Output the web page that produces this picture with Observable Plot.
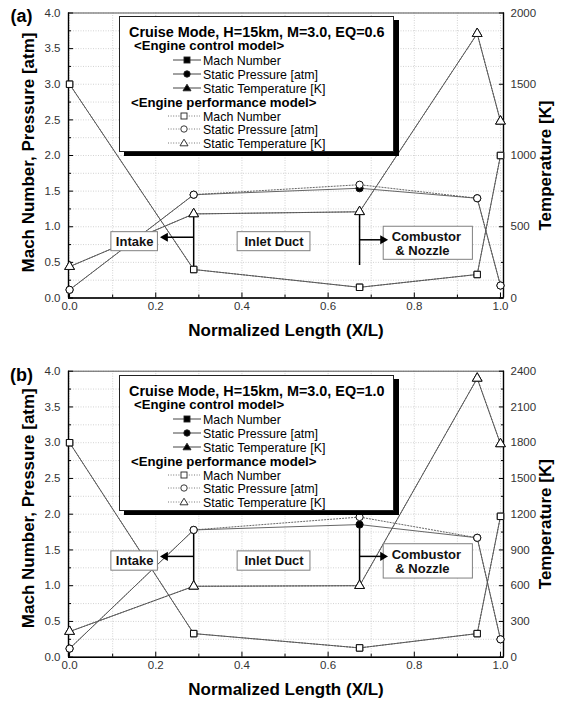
<!DOCTYPE html>
<html><head><meta charset="utf-8">
<script src="https://cdn.jsdelivr.net/npm/d3@7"></script>
<script src="https://cdn.jsdelivr.net/npm/@observablehq/plot@0.6"></script>
<style>
body{margin:0;background:#fff;}
#wrap{position:relative;width:561px;height:701px;font-family:"Liberation Sans",Arial,sans-serif;overflow:hidden;}
.panel{position:absolute;left:0;}
.legend{position:absolute;background:#fff;border:1px solid #222;box-shadow:5px 4px 0 #000;box-sizing:border-box;}
.legend .row{position:absolute;white-space:nowrap;line-height:1;transform:translateY(-50%);color:#000;}
.legend svg{position:absolute;transform:translateY(-50%);overflow:visible;}
</style></head><body><div id="wrap"></div>
<script>
// ---------- data ----------
const xPos = [0, 0.288, 0.673, 0.946, 1.0];

// (a) EQ = 0.6
const machCtrlA = [3.0, 0.40, 0.15, 0.33, 2.0];
const machPerfA = [3.0, 0.40, 0.15, 0.33, 2.0];
const presCtrlA = [0.115, 1.45, 1.54, 1.40, 0.175];
const presPerfA = [0.115, 1.45, 1.59, 1.40, 0.175];
const tempCtrlA = [220, 590, 605, 1855, 1240];
const tempPerfA = [220, 590, 605, 1855, 1240];

// (b) EQ = 1.0
const machCtrlB = [3.0, 0.33, 0.13, 0.33, 1.97];
const machPerfB = [3.0, 0.33, 0.13, 0.33, 1.97];
const presCtrlB = [0.12, 1.78, 1.855, 1.67, 0.25];
const presPerfB = [0.12, 1.78, 1.96, 1.67, 0.25];
const tempCtrlB = [215, 595, 600, 2340, 1790];
const tempPerfB = [215, 595, 600, 2340, 1790];

// tick labels
const xTickValues = [0, 0.2, 0.4, 0.6, 0.8, 1.0];
const xMinorTicks = [0.1, 0.3, 0.5, 0.7, 0.9];
const yTickValues = [0, 0.5, 1.0, 1.5, 2.0, 2.5, 3.0, 3.5, 4.0];
const yMinorTicks = [0.25, 0.75, 1.25, 1.75, 2.25, 2.75, 3.25, 3.75];
const tempTicksA = [0, 500, 1000, 1500, 2000];
const tempMinorA = [250, 750, 1250, 1750];
const tempTicksB = [0, 300, 600, 900, 1200, 1500, 1800, 2100, 2400];
const tempMinorB = [150, 450, 750, 1050, 1350, 1650, 1950, 2250];

// section annotations (data units: x = X/L, y = left axis)
const boxesA = [
  {label: "Intake", x1: 0.097, x2: 0.205, y1: 0.657, y2: 0.924},
  {label: "Inlet Duct", x1: 0.390, x2: 0.559, y1: 0.657, y2: 0.924}
];
const combA = {label: "Combustor\n\u00a0& Nozzle", x1: 0.729, x2: 0.936, y1: 0.536, y2: 1.0};
const dividersA = [{x: 0.288, y1: 1.18, y2: 0.40}, {x: 0.673, y1: 1.20, y2: 0.456}];
const arrowsA = [{x1: 0.288, x2: 0.222, y: 0.853, dir: -1}, {x1: 0.673, x2: 0.727, y: 0.817, dir: 1}];

const boxesB = [
  {label: "Intake", x1: 0.097, x2: 0.205, y1: 1.21, y2: 1.48},
  {label: "Inlet Duct", x1: 0.390, x2: 0.559, y1: 1.21, y2: 1.48}
];
const combB = {label: "Combustor\n\u00a0& Nozzle", x1: 0.729, x2: 0.936, y1: 1.10, y2: 1.58};
const dividersB = [{x: 0.288, y1: 1.78, y2: 0.99}, {x: 0.673, y1: 1.855, y2: 1.0}];
const arrowsB = [{x1: 0.288, x2: 0.222, y: 1.41, dir: -1}, {x1: 0.673, x2: 0.727, y: 1.41, dir: 1}];

// ---------- drawing ----------
const xDomain = [-0.0025, 1.007];
const wrap = document.getElementById("wrap");
const f1 = d3.format(".1f");

function series(vals, k = 1) { return xPos.map((x, i) => ({x, y: vals[i] / k})); }

function panel(cfg) {
  const k = cfg.tempPerUnit;
  const lineC = {x: "x", y: "y", stroke: "#555", strokeWidth: 0.9};
  const lineP = {x: "x", y: "y", stroke: "#666", strokeWidth: 1, strokeDasharray: "1.2,1.8"};
  const dotBase = {x: "x", y: "y", r: 3.6, stroke: "#111", strokeWidth: 1};
  const ctrl = [series(cfg.machC), series(cfg.presC), series(cfg.tempC, k)];
  const perf = [series(cfg.machP), series(cfg.presP), series(cfg.tempP, k)];
  const syms = ["square", "circle", "triangle"];
  const noText = () => "";
  const title = {fontSize: 17, fontWeight: "bold", fill: "#000", textAnchor: "middle", lineAnchor: "middle"};
  const marks = [
    Plot.gridX([...xTickValues, ...xMinorTicks], {stroke: "#c8c8c8", strokeOpacity: 1, strokeDasharray: "1,1.5", strokeWidth: 0.8}),
    Plot.gridY([...yTickValues, ...yMinorTicks], {stroke: "#c8c8c8", strokeOpacity: 1, strokeDasharray: "1,1.5", strokeWidth: 0.8}),
    Plot.frame({stroke: "#555", strokeWidth: 1}),
    Plot.ruleY([0], {stroke: "#000", strokeWidth: 1.4}),
    Plot.ruleX([xDomain[0], xDomain[1]], {stroke: "#000", strokeWidth: 1.4}),
    // bottom axis
    Plot.axisX(xTickValues, {tickSize: 0, tickPadding: 4, tickFormat: f1, fontSize: 11.5, fill: "#333", label: null}),
    Plot.axisX(xTickValues, {tickSize: -5, tickFormat: noText, label: null, stroke: "#000"}),
    Plot.axisX(xMinorTicks, {tickSize: -3, tickFormat: noText, label: null, stroke: "#000"}),
    // left axis
    Plot.axisY(yTickValues, {anchor: "left", tickSize: 0, tickPadding: 8, tickFormat: f1, fontSize: 11.5, fill: "#333", label: null}),
    Plot.axisY(yTickValues, {anchor: "left", tickSize: -5, tickFormat: noText, label: null}),
    Plot.axisY(yMinorTicks, {anchor: "left", tickSize: -3, tickFormat: noText, label: null}),
    // right axis (temperature)
    Plot.axisY(cfg.tempTicks.map(t => t / k), {anchor: "right", tickSize: 0, tickPadding: 7, tickFormat: d => String(Math.round(d * k)), fontSize: 11.5, fill: "#333", label: null}),
    Plot.axisY(cfg.tempTicks.map(t => t / k), {anchor: "right", tickSize: -5, tickFormat: noText, label: null}),
    Plot.axisY(cfg.tempMinor.map(t => t / k), {anchor: "right", tickSize: -3, tickFormat: noText, label: null}),
    // series lines
    ...perf.map(s => Plot.line(s, lineP)),
    ...ctrl.map(s => Plot.line(s, lineC)),
    // annotation boxes
    Plot.rect([...cfg.boxes, cfg.comb], {x1: "x1", x2: "x2", y1: "y1", y2: "y2", fill: "#fff", stroke: "#808080", strokeWidth: 1}),
    Plot.text(cfg.boxes, {x: d => (d.x1 + d.x2) / 2, y: d => (d.y1 + d.y2) / 2, text: "label", fontSize: 13, fontWeight: "bold", fill: "#111"}),
    Plot.text([cfg.comb], {x: "x1", y: d => (d.y1 + d.y2) / 2, dx: 8, text: "label", textAnchor: "start", lineHeight: 1.13, fontSize: 13, fontWeight: "bold", fill: "#111"}),
    // section dividers and arrows
    Plot.ruleX(cfg.dividers, {x: "x", y1: "y1", y2: "y2", stroke: "#000", strokeWidth: 1.5}),
    Plot.link(cfg.arrows, {x1: "x1", x2: "x2", y1: "y", y2: "y", stroke: "#000", strokeWidth: 1.5}),
    Plot.dot(cfg.arrows, {x: "x2", y: "y", symbol: "triangle", r: 2.4, fill: "#000", stroke: "#000", rotate: d => 90 * d.dir}),
    // markers: control model (filled) below, performance model (open) on top
    ...ctrl.map((s, i) => Plot.dot(s, {...dotBase, symbol: syms[i], fill: "#000"})),
    ...perf.map((s, i) => Plot.dot(s, {...dotBase, symbol: syms[i], fill: "#fff"})),
    // titles
    Plot.text(["Normalized Length (X/L)"], {...title, frameAnchor: "bottom", dy: 32.5}),
    Plot.text(["Mach Number, Pressure [atm]"], {...title, frameAnchor: "left", dx: -40, dy: cfg.leftDy, rotate: -90}),
    Plot.text(["Temperature [K]"], {...title, frameAnchor: "right", dx: 42, dy: cfg.rightDy, rotate: -90}),
    Plot.text([cfg.tag], {...title, frameAnchor: "top-left", dx: -47, dy: cfg.tagDy, fontSize: 18})
  ];
  const svg = Plot.plot({
    width: 561, height: cfg.height,
    marginTop: cfg.mt, marginBottom: cfg.mb, marginLeft: 68, marginRight: 58,
    x: {domain: xDomain},
    y: {domain: [0, 4]},
    style: {fontFamily: "Liberation Sans, Arial, sans-serif", fontSize: "11.5px", background: "#fff", overflow: "visible"},
    marks
  });
  const holder = document.createElement("div");
  holder.className = "panel";
  holder.style.top = cfg.top + "px";
  holder.appendChild(svg);
  wrap.appendChild(holder);
}

function symSvg(kind, filled, dotted) {
  const fill = filled ? "#000" : "#fff";
  const len = dotted ? 32 : 28, cx = len / 2;
  let m;
  if (kind === "square") m = `<rect x="${cx - 3}" y="3" width="6" height="6" fill="${fill}" stroke="#222" stroke-width="0.9"/>`;
  else if (kind === "circle") m = `<circle cx="${cx}" cy="6" r="3.2" fill="${fill}" stroke="#222" stroke-width="0.9"/>`;
  else m = `<path d="M${cx},2.2L${cx + 4},8.8L${cx - 4},8.8Z" fill="${fill}" stroke="#222" stroke-width="0.9"/>`;
  const line = `<line x1="0" x2="${len}" y1="6" y2="6" stroke="${dotted ? "#777" : "#444"}" stroke-width="1" ${dotted ? 'stroke-dasharray="1,1.6"' : ""}/>`;
  return `<svg width="${len}" height="12" style="left:${dotted ? 48 : 53}px;top:ROWpx">${line}${m}</svg>`;
}

function legend(top, title) {
  const L = document.createElement("div");
  L.className = "legend";
  Object.assign(L.style, {left: "119px", top: top + "px", width: "275px", height: "136px"});
  const rows = [
    {y: 14.5, x: 9, html: title, css: "font-weight:bold;font-size:14.4px;"},
    {y: 29, x: 14, html: "&lt;Engine control model&gt;", css: "font-weight:bold;font-size:13.2px;"},
    {y: 43.5, sym: ["square", true, false], html: "Mach Number"},
    {y: 57.5, sym: ["circle", true, false], html: "Static Pressure [atm]"},
    {y: 71.5, sym: ["triangle", true, false], html: "Static Temperature [K]"},
    {y: 86, x: 11, html: "&lt;Engine performance model&gt;", css: "font-weight:bold;font-size:13.2px;"},
    {y: 99.5, sym: ["square", false, true], html: "Mach Number"},
    {y: 113, sym: ["circle", false, true], html: "Static Pressure [atm]"},
    {y: 126.5, sym: ["triangle", false, true], html: "Static Temperature [K]"}
  ];
  let h = "";
  for (const r of rows) {
    if (r.sym) {
      h += symSvg(...r.sym).replace("ROW", r.y - 1);
      h += `<div class="row" style="left:83px;top:${r.y}px;font-size:12.4px;">${r.html}</div>`;
    } else {
      h += `<div class="row" style="left:${r.x}px;top:${r.y}px;${r.css}">${r.html}</div>`;
    }
  }
  L.innerHTML = h;
  wrap.appendChild(L);
}

panel({
  top: 0, height: 350, mt: 12.5, mb: 52.5, tempPerUnit: 500,
  machC: machCtrlA, machP: machPerfA, presC: presCtrlA, presP: presPerfA, tempC: tempCtrlA, tempP: tempPerfA,
  tempTicks: tempTicksA, tempMinor: tempMinorA,
  boxes: boxesA, comb: combA, dividers: dividersA, arrows: arrowsA,
  tag: "(a)", tagDy: 3, leftDy: -3, rightDy: 10
});
panel({
  top: 350, height: 351, mt: 20.7, mb: 44.3, tempPerUnit: 600,
  machC: machCtrlB, machP: machPerfB, presC: presCtrlB, presP: presPerfB, tempC: tempCtrlB, tempP: tempPerfB,
  tempTicks: tempTicksB, tempMinor: tempMinorB,
  boxes: boxesB, comb: combB, dividers: dividersB, arrows: arrowsB,
  tag: "(b)", tagDy: 4, leftDy: -6, rightDy: 10
});
legend(16, "Cruise Mode, H=15km, M=3.0, EQ=0.6");
legend(375, "Cruise Mode, H=15km, M=3.0, EQ=1.0");
</script></body></html>
